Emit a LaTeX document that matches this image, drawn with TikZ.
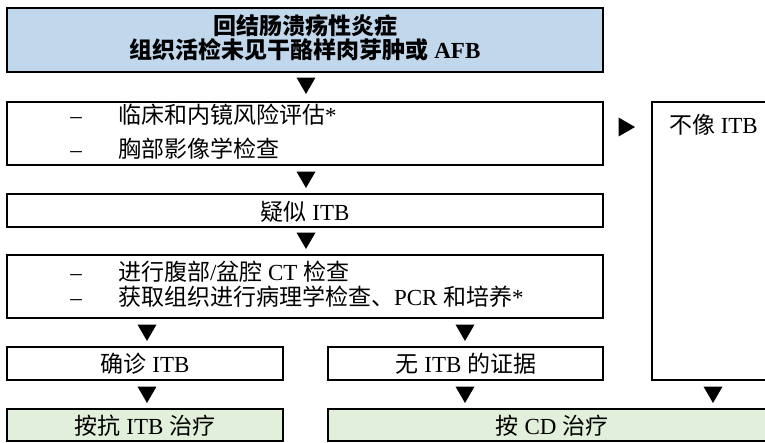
\documentclass[tikz,border=0pt]{standalone}
\usepackage{fontspec}
\setmainfont{Liberation Serif}
\newfontfamily\cjk{Noto Sans CJK SC}
\usetikzlibrary{shapes.geometric}
\definecolor{hdrblue}{HTML}{C0D7EC}
\definecolor{txgreen}{HTML}{E2EFDA}
\tikzset{
  box/.style={draw=black, line width=1.6pt, rectangle, inner sep=0pt, outer sep=0pt},
  hdrbox/.style={box, line width=2.2pt, fill=hdrblue},
  treatbox/.style={box, fill=txgreen},
  txt/.style={inner sep=0pt, outer sep=0pt, font=\fontsize{23}{26}\selectfont},
  btxt/.style={txt, font=\bfseries\fontsize{23}{26}\selectfont},
  dtri/.style={regular polygon, regular polygon sides=3, shape border rotate=180,
               fill=black, minimum size=22pt, inner sep=0pt, outer sep=0pt},
  rtri/.style={regular polygon, regular polygon sides=3, shape border rotate=-90,
               fill=black, minimum size=22pt, inner sep=0pt, outer sep=0pt},
}
\begin{document}
\begin{tikzpicture}[x=1pt,y=-1pt]
\useasboundingbox (0,0) rectangle (765,442);
\clip (0,0) rectangle (765,442);
% boxes
\node[hdrbox, minimum width=596pt, minimum height=64pt] (b1) at (305,40) {};
\node[box, minimum width=596pt, minimum height=63pt] (b2) at (305,133.5) {};
\node[box, minimum width=596pt, minimum height=33pt] (b3) at (305,210.5) {};
\node[box, minimum width=596pt, minimum height=63pt] (b4) at (305,286.5) {};
\node[box, minimum width=276pt, minimum height=33pt] (b5) at (145,363.5) {};
\node[box, minimum width=275pt, minimum height=33pt] (b6) at (465.5,363.5) {};
\node[treatbox, minimum width=276pt, minimum height=32pt] (g1) at (145,425) {};
\node[treatbox, minimum width=448pt, minimum height=32pt] (g2) at (552,425) {};
\node[box, minimum width=140pt, minimum height=278pt] (r) at (722,241) {};
% texts
\node[btxt, anchor=base] (t1a) at (305,34) {{\cjk 回结肠溃疡性炎症}};
\node[btxt, anchor=base] (t1b) at (305,58) {{\cjk 组织活检未见干酪样肉芽肿或} AFB};
\node[txt, anchor=base] (d2a) at (76,123) {–};
\node[txt, anchor=base west] (t2a) at (118,123) {{\cjk 临床和内镜风险评估}*};
\node[txt, anchor=base] (d2b) at (76,157) {–};
\node[txt, anchor=base west] (t2b) at (118,157) {{\cjk 胸部影像学检查}};
\node[txt, anchor=base] (t3) at (305,220) {{\cjk 疑似} ITB};
\node[txt, anchor=base] (d4a) at (76,280) {–};
\node[txt, anchor=base west] (t4a) at (118,280) {{\cjk 进行腹部}/{\cjk 盆腔} CT {\cjk 检查}};
\node[txt, anchor=base] (d4b) at (76,305) {–};
\node[txt, anchor=base west] (t4b) at (118,305) {{\cjk 获取组织进行病理学检查、}PCR {\cjk 和培养}*};
\node[txt, anchor=base] (t5) at (145,372) {{\cjk 确诊} ITB};
\node[txt, anchor=base] (t6) at (466,372) {{\cjk 无} ITB {\cjk 的证据}};
\node[txt, anchor=base] (tg1) at (145,434) {{\cjk 按抗} ITB {\cjk 治疗}};
\node[txt, anchor=base] (tg2) at (552,434) {{\cjk 按} CD {\cjk 治疗}};
\node[txt, anchor=base west] (tr) at (669,133) {{\cjk 不像} ITB};
% arrowheads
\node[dtri] (a1) at (306,83) {};
\node[dtri] (a2) at (306,177) {};
\node[dtri] (a3) at (306,238) {};
\node[dtri] (a4) at (147,330) {};
\node[dtri] (a5) at (465,330) {};
\node[dtri] (a6) at (147,392) {};
\node[dtri] (a7) at (465,392) {};
\node[dtri] (a8) at (713,392) {};
\node[rtri] (a9) at (624,127) {};
\end{tikzpicture}
\end{document}
